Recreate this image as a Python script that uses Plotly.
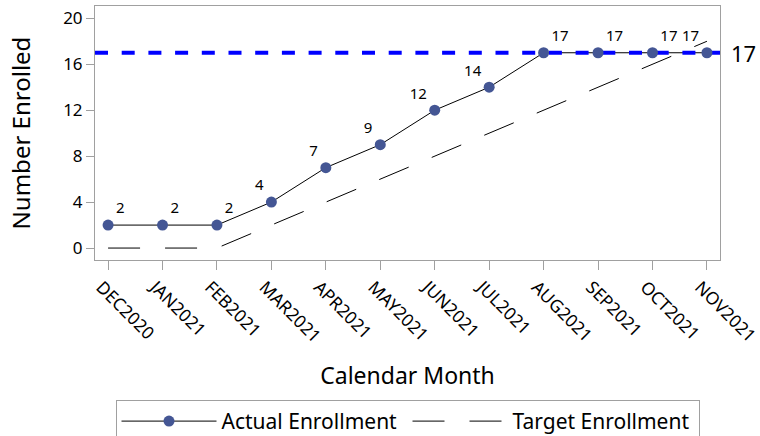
import plotly.graph_objects as go

months = ["DEC2020", "JAN2021", "FEB2021", "MAR2021", "APR2021", "MAY2021",
          "JUN2021", "JUL2021", "AUG2021", "SEP2021", "OCT2021", "NOV2021"]
actual = [2, 2, 2, 4, 7, 9, 12, 14, 17, 17, 17, 17]
target = [0, 0, 0, 2, 4, 6, 8, 10, 12, 14, 16, 18]
goal = 17
y_ticks = [0, 4, 8, 12, 16, 20]

FONT = "Noto Sans"
MARKER = "#445694"
FRAME = "#a0a0a0"

xi = list(range(len(months)))
x_range = [-0.24, len(months) - 1 + 0.24]
y_range = [-1.04, 21.07]

# data label placement (as in the original rendering)
label_pos = (["top right"] * 3 + ["top left"] * 5 + ["top right"] * 3 + ["top left"])

fig = go.Figure()

# actual enrollment connecting line (below the reference line)
fig.add_trace(go.Scatter(x=xi, y=actual, mode="lines",
                         line=dict(color="black", width=1),
                         showlegend=False, hoverinfo="skip"))
# reference line at goal
fig.add_trace(go.Scatter(x=x_range, y=[goal, goal], mode="lines",
                         line=dict(color="#0000ff", width=4, dash="13px,13.7px"),
                         showlegend=False, hoverinfo="skip"))
# target enrollment
fig.add_trace(go.Scatter(x=xi, y=target, mode="lines",
                         line=dict(color="black", width=1, dash="32px,25px"),
                         name="Target Enrollment", showlegend=False))
# actual enrollment markers + labels
fig.add_trace(go.Scatter(x=xi, y=actual, mode="markers+text",
                         marker=dict(color=MARKER, size=11),
                         text=[str(v) for v in actual], textposition=label_pos,
                         textfont=dict(family=FONT, size=15, color="black"),
                         cliponaxis=False, showlegend=False))
# legend entries
fig.add_trace(go.Scatter(x=[None], y=[None], mode="lines+markers",
                         line=dict(color="black", width=1),
                         marker=dict(color=MARKER, size=11),
                         name="Actual Enrollment"))
fig.add_trace(go.Scatter(x=[None], y=[None], mode="lines",
                         line=dict(color="black", width=1, dash="32px,25px"),
                         name="Target Enrollment"))

fig.add_annotation(text=str(goal), xref="paper", x=1, xshift=9, xanchor="left",
                   yref="y", y=goal, yanchor="middle", showarrow=False,
                   font=dict(family=FONT, size=22, color="black"))

fig.update_layout(
    width=760, height=436,
    margin=dict(l=95, r=40, t=6, b=176, autoexpand=False),
    paper_bgcolor="white", plot_bgcolor="white",
    font=dict(family=FONT, color="black"),
    showlegend=True,
    legend=dict(orientation="h", x=0.5, xanchor="center", y=-0.551, yanchor="top",
                bordercolor=FRAME, borderwidth=1,
                font=dict(family=FONT, size=21, color="black"),
                itemwidth=95, entrywidth=181, tracegroupgap=0),
    xaxis=dict(range=x_range, tickmode="array", tickvals=xi, ticktext=months,
               tickangle=45, tickfont=dict(family=FONT, size=17.5),
               ticklabelshift=-7, ticklabeloverflow="allow",
               ticks="outside", ticklen=9, tickcolor=FRAME,
               showline=True, linecolor=FRAME, linewidth=1, mirror=True,
               showgrid=False, zeroline=False, automargin=False,
               title=dict(text="Calendar Month", font=dict(family=FONT, size=23),
                          standoff=21)),
    yaxis=dict(range=y_range, tickmode="array", tickvals=y_ticks,
               tickfont=dict(family=FONT, size=17),
               ticks="outside", ticklen=8, tickcolor=FRAME,
               showline=True, linecolor=FRAME, linewidth=1, mirror=True,
               showgrid=False, zeroline=False, automargin=False,
               title=dict(text="Number Enrolled", font=dict(family=FONT, size=24),
                          standoff=25)),
)

fig.write_html("out.html", config={"displayModeBar": False},
               post_script="document.body.style.margin='0';")
